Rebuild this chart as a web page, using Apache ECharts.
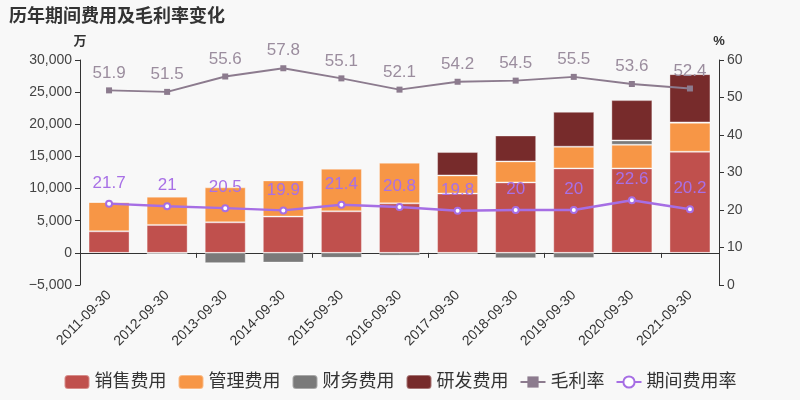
<!DOCTYPE html>
<html>
<head>
<meta charset="utf-8">
<script src="https://cdn.jsdelivr.net/npm/echarts@6/dist/echarts.min.js"></script>
<style>
html,body{margin:0;padding:0;background:#f8f8f8;}
#c{width:800px;height:400px;}
</style>
</head>
<body>
<div id="c"></div>
<script>
var categories = ['2011-09-30','2012-09-30','2013-09-30','2014-09-30','2015-09-30','2016-09-30','2017-09-30','2018-09-30','2019-09-30','2020-09-30','2021-09-30'];
var salesExp = [3350, 4350, 4750, 5640, 6460, 7700, 9230, 10960, 13140, 13140, 15730];
var adminExp = [4570, 4390, 5440, 5630, 6630, 6320, 2820, 3270, 3370, 3680, 4510];
var financeExp = [0, -200, -1620, -1510, -780, -440, -180, -830, -800, 670, 50];
var rdExp = [0, 0, 0, 0, 0, 0, 3630, 4030, 5430, 6270, 7510];
var grossMargin = [51.9, 51.5, 55.6, 57.8, 55.1, 52.1, 54.2, 54.5, 55.5, 53.6, 52.4];
var periodRate = [21.7, 21, 20.5, 19.9, 21.4, 20.8, 19.8, 20, 20, 22.6, 20.2];

var font = '"Liberation Sans", "Noto Sans CJK SC", sans-serif';
var chart = echarts.init(document.getElementById('c'), null, {renderer: 'canvas'});
function barSeries(name, data, color) {
  return {
    name: name, type: 'bar', stack: 'exp', data: data,
    xAxisIndex: 0, yAxisIndex: 0, barWidth: 41,
    itemStyle: {color: color, borderColor: 'rgba(255,255,255,0.35)', borderWidth: 1}
  };
}
chart.setOption({
  backgroundColor: '#f8f8f8',
  animation: false,
  textStyle: {fontFamily: font},
  title: {
    text: '历年期间费用及毛利率变化', left: 4, top: 3,
    textStyle: {fontSize: 18, fontWeight: 'bold', color: '#333', fontFamily: font}
  },
  grid: {left: 80, right: 81, top: 60, bottom: 115},
  legend: {
    bottom: 4, left: 'center', itemWidth: 25, itemHeight: 14, itemGap: 11,
    textStyle: {fontSize: 18, color: '#333', fontFamily: font},
    data: [
      {name: '销售费用', icon: 'roundRect'},
      {name: '管理费用', icon: 'roundRect'},
      {name: '财务费用', icon: 'roundRect'},
      {name: '研发费用', icon: 'roundRect'},
      {name: '毛利率'},
      {name: '期间费用率'}
    ]
  },
  xAxis: [
    {
      type: 'category', data: categories, position: 'bottom',
      axisLine: {onZero: true, lineStyle: {color: '#333'}},
      axisTick: {show: true, alignWithLabel: false, length: 5, lineStyle: {color: '#333'}},
      axisLabel: {show: false}
    },
    {
      type: 'category', data: categories, position: 'bottom',
      axisLine: {show: false, onZero: false}, axisTick: {show: false},
      axisLabel: {show: true, rotate: 45, fontSize: 14, color: '#333', margin: 8, interval: 0}
    }
  ],
  yAxis: [
    {
      type: 'value', min: -5000, max: 30000, interval: 5000, position: 'left',
      name: '万', nameGap: 12, nameTextStyle: {fontSize: 13, fontWeight: 'bold', color: '#333', align: 'center'},
      axisLine: {show: true, lineStyle: {color: '#333'}},
      axisTick: {show: true, length: 5},
      splitLine: {show: false},
      axisLabel: {fontSize: 14, color: '#444', formatter: function (v) { return v.toLocaleString('en-US').replace('-', '\u2212'); }}
    },
    {
      type: 'value', min: 0, max: 60, interval: 10, position: 'right',
      name: '%', nameGap: 12, nameTextStyle: {fontSize: 13, fontWeight: 'bold', color: '#333'},
      axisLine: {show: true, lineStyle: {color: '#333'}},
      axisTick: {show: true, length: 5},
      splitLine: {show: false},
      axisLabel: {fontSize: 14, color: '#444'}
    }
  ],
  series: [
    barSeries('销售费用', salesExp, '#c0504d'),
    barSeries('管理费用', adminExp, '#f79646'),
    barSeries('财务费用', financeExp, '#7a7a7a'),
    barSeries('研发费用', rdExp, '#772b2b'),
    {
      name: '毛利率', type: 'line', data: grossMargin, yAxisIndex: 1, xAxisIndex: 0,
      symbol: 'rect', symbolSize: 6, z: 5,
      itemStyle: {color: '#8c7b8e'},
      lineStyle: {color: '#8c7b8e', width: 2},
      label: {show: true, position: 'top', distance: 6, fontSize: 17, color: '#9b8d9e'}
    },
    {
      name: '期间费用率', type: 'line', data: periodRate, yAxisIndex: 1, xAxisIndex: 0,
      symbol: 'emptyCircle', symbolSize: 6, z: 6,
      itemStyle: {color: '#a66ee4', borderColor: '#ffffff', borderWidth: 1.5},
      lineStyle: {color: '#a66ee4', width: 2.5},
      label: {show: true, position: 'top', distance: 8, fontSize: 17, color: '#a870e6'}
    }
  ]
});
</script>
</body>
</html>
